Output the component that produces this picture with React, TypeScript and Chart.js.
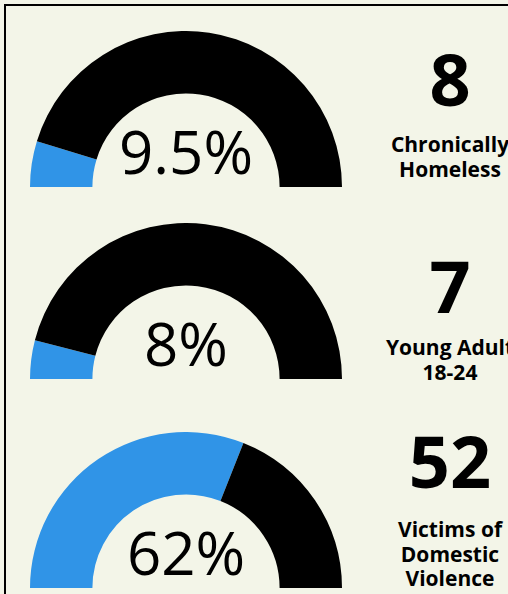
import React, { useEffect, useRef } from "react";
import { Chart, registerables } from "chart.js";

Chart.register(...registerables);

const percentValues = [9.5, 8, 62];
const percentLabels = ["9.5%", "8%", "62%"];
const counts = ["8", "7", "52"];
const categoryLines = [
  ["Chronically", "Homeless"],
  ["Young Adult", "18-24"],
  ["Victims of", "Domestic", "Violence"],
];

const BLUE = "#3094e7";
const BG = "#f3f5e8";
const gaugeTops = [31, 223, 432];
const numberTops = [42, 249, 424];
const labelTops = [132, 335, 517];

const centerTextPlugin = {
  id: "centerText",
  afterDraw(chart: any) {
    const txt = chart.options.plugins.centerText?.text;
    if (!txt) return;
    const meta = chart.getDatasetMeta(0);
    const arc = meta.data[0];
    if (!arc) return;
    const ctx = chart.ctx;
    ctx.save();
    ctx.font = "400 60px 'Open Sans'";
    ctx.fillStyle = "#000";
    ctx.textAlign = "center";
    ctx.textBaseline = "alphabetic";
    ctx.fillText(txt, arc.x, arc.y - 13);
    ctx.restore();
  },
};

function Gauge({ idx }: { idx: number }) {
  const ref = useRef<HTMLCanvasElement>(null);
  useEffect(() => {
    if (!ref.current) return;
    const p = percentValues[idx];
    const chart = new Chart(ref.current, {
      type: "doughnut",
      data: {
        labels: ["Share", "Rest"],
        datasets: [
          {
            data: [p, 100 - p],
            backgroundColor: [BLUE, "#000000"],
            borderWidth: 0,
          },
        ],
      },
      options: {
        responsive: false,
        maintainAspectRatio: false,
        animation: false,
        rotation: -90,
        circumference: 180,
        cutout: "60%",
        layout: { padding: 0 },
        plugins: {
          legend: { display: false },
          tooltip: { enabled: false },
          centerText: { text: percentLabels[idx] },
        } as any,
      },
      plugins: [centerTextPlugin],
    });
    return () => chart.destroy();
  }, [idx]);
  return (
    <canvas
      ref={ref}
      width={312}
      height={156}
      style={{ position: "absolute", left: 30, top: gaugeTops[idx], width: 312, height: 156 }}
    />
  );
}

export default function App() {
  useEffect(() => {
    document.body.style.margin = "0";
    document.body.style.overflow = "hidden";
    document.body.style.background = BG;
  }, []);
  return (
    <div
      style={{
        position: "fixed",
        left: 0,
        top: 0,
        width: 508,
        height: 594,
        overflow: "hidden",
        background: BG,
        fontFamily: "'Open Sans', sans-serif",
      }}
    >
      <div
        style={{
          position: "absolute",
          left: 4,
          top: 4,
          width: 700,
          height: 800,
          border: "2px solid #000",
          boxSizing: "border-box",
        }}
      />
      {percentValues.map((_, i) => (
        <React.Fragment key={i}>
          <Gauge idx={i} />
          <div
            style={{
              position: "absolute",
              left: 450,
              top: numberTops[i],
              transform: "translateX(-50%)",
              fontSize: 72,
              lineHeight: "72px",
              fontWeight: 700,
              color: "#000",
              whiteSpace: "nowrap",
              textAlign: "center",
            }}
          >
            {counts[i]}
          </div>
          <div
            style={{
              position: "absolute",
              left: 450,
              top: labelTops[i],
              transform: "translateX(-50%)",
              fontSize: 21,
              lineHeight: "24.5px",
              fontWeight: 700,
              color: "#000",
              whiteSpace: "nowrap",
              textAlign: "center",
            }}
          >
            {categoryLines[i].map((l, j) => (
              <div key={j}>{l}</div>
            ))}
          </div>
        </React.Fragment>
      ))}
    </div>
  );
}
